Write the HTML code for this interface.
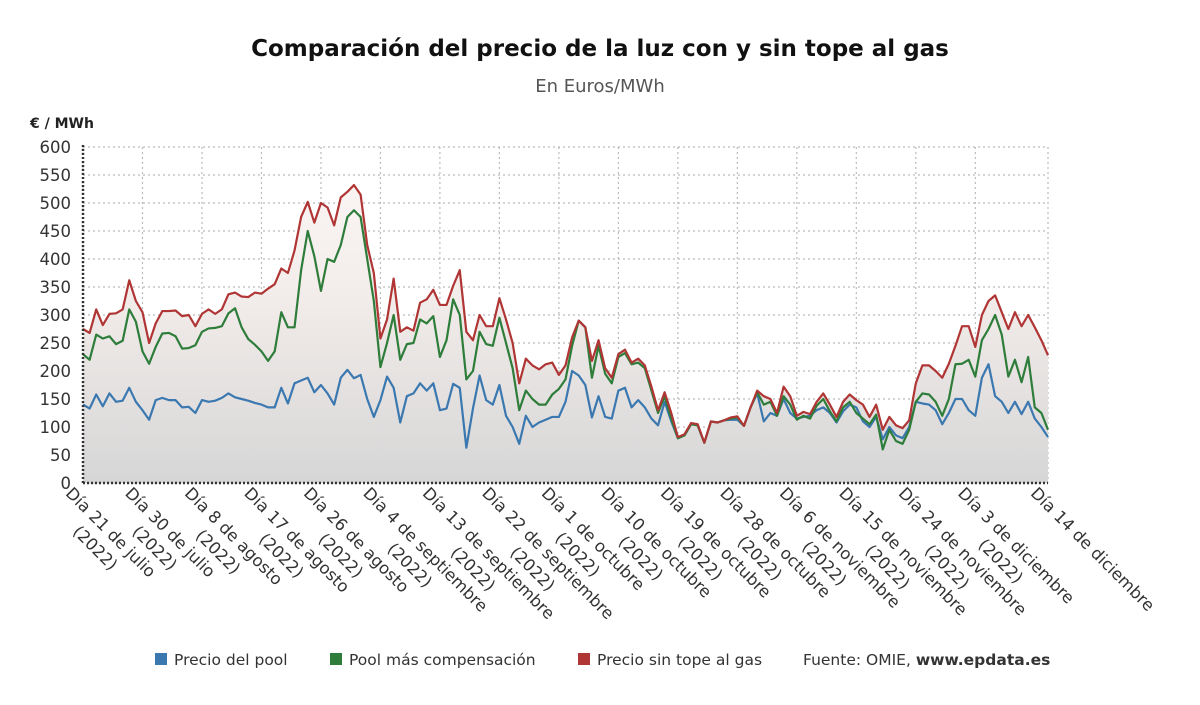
<!DOCTYPE html>
<html><head><meta charset="utf-8"><style>
body{margin:0;background:#fff;}
svg{display:block;font-family:"DejaVu Sans","Liberation Sans",sans-serif;}
</style></head><body>
<svg id="chart" width="1200" height="705" viewBox="0 0 1200 705" xmlns="http://www.w3.org/2000/svg">
<defs>
<linearGradient id="areaGrad" gradientUnits="userSpaceOnUse" x1="0" y1="147" x2="0" y2="483">
<stop offset="0" stop-color="#fdf7f7"/><stop offset="0.45" stop-color="#f2ecea"/><stop offset="1" stop-color="#d6d6d6"/>
</linearGradient>
</defs>
<text x="600" y="56" text-anchor="middle" font-size="23" font-weight="bold" fill="#111">Comparación del precio de la luz con y sin tope al gas</text>
<text x="600" y="92" text-anchor="middle" font-size="18" fill="#555">En Euros/MWh</text>
<text x="30" y="128" font-size="14" font-weight="bold" fill="#222">€ / MWh</text>
<g id="grid"></g>
<path id="area" fill="url(#areaGrad)"/>
<g id="lines"></g>
<g id="axes"></g>
<g id="legend" font-size="15.5" fill="#333">
<rect x="155" y="653" width="12" height="12" fill="#3b78b0"/>
<text x="174" y="665">Precio del pool</text>
<rect x="330" y="653" width="12" height="12" fill="#2e7d3a"/>
<text x="349" y="665">Pool más compensación</text>
<rect x="578" y="653" width="12" height="12" fill="#b03535"/>
<text x="597" y="665">Precio sin tope al gas</text>
<text x="803" y="665">Fuente: OMIE, <tspan font-weight="bold">www.epdata.es</tspan></text>
</g>
</svg>
<script>
const tickLabels = ["Día 21 de julio","Día 30 de julio","Día 8 de agosto","Día 17 de agosto","Día 26 de agosto","Día 4 de septiembre","Día 13 de septiembre","Día 22 de septiembre","Día 1 de octubre","Día 10 de octubre","Día 19 de octubre","Día 28 de octubre","Día 6 de noviembre","Día 15 de noviembre","Día 24 de noviembre","Día 3 de diciembre","Día 14 de diciembre"];
const tickIndex = [0,9,18,27,36,45,54,63,72,81,90,99,108,117,126,135,146];
const yTicks = [0,50,100,150,200,250,300,350,400,450,500,550,600];
const sinTope = [275,268,310,282,302,303,310,362,325,305,250,285,307,307,308,298,300,280,302,310,302,310,337,340,333,332,340,338,347,355,383,375,415,475,502,465,500,492,460,510,520,532,515,425,375,258,292,365,270,278,272,322,328,345,318,318,352,380,270,255,300,280,280,330,292,250,178,222,210,203,212,215,193,210,260,290,278,218,255,205,188,230,238,215,222,210,172,130,162,125,82,87,107,105,72,110,108,112,117,119,102,135,165,155,150,125,172,155,120,127,123,145,160,140,118,145,158,148,140,118,140,95,118,103,98,112,178,210,210,200,188,213,245,280,280,243,300,325,335,305,275,305,280,300,278,255,228];
const compensacion = [230,220,265,258,262,248,254,310,288,235,213,243,267,268,262,240,241,246,270,276,277,280,303,312,278,257,247,235,218,235,305,278,278,380,450,405,343,400,395,425,475,487,475,400,325,207,250,300,220,248,250,292,285,298,225,255,328,300,185,200,270,248,245,295,250,205,130,165,150,140,140,158,168,185,245,290,278,188,245,195,178,225,232,212,215,205,165,125,155,115,80,85,105,103,72,110,108,112,115,117,102,135,162,140,145,120,155,140,113,120,115,138,150,128,110,135,145,125,115,105,122,60,95,75,70,95,145,160,158,145,120,150,212,213,220,190,255,275,300,265,190,220,180,225,135,125,95];
const pool = [140,133,158,137,160,145,147,170,145,130,113,148,152,148,148,135,136,125,148,145,147,152,160,153,150,147,143,140,135,135,170,142,178,183,188,162,175,160,140,188,202,187,193,150,118,148,190,170,108,155,160,178,165,178,130,133,177,170,63,133,192,148,140,175,120,100,70,120,100,108,113,118,118,145,200,192,175,117,155,118,115,165,170,135,148,135,115,103,145,110,80,85,105,103,72,110,108,112,113,113,102,135,160,110,125,120,150,125,115,118,120,130,135,125,108,128,140,135,110,100,118,78,100,85,80,100,145,142,140,130,105,125,150,150,130,120,188,212,155,145,125,145,123,145,115,100,82];

const NS="http://www.w3.org/2000/svg";
const X0=83, X1=1048, Y0=483, Y1=147, N=sinTope.length;
const xs=i=>X0+(X1-X0)*i/(N-1);
const ys=v=>Y0-(Y0-Y1)*v/600;
function mk(tag,attrs,parent){const e=document.createElementNS(NS,tag);for(const k in attrs)e.setAttribute(k,attrs[k]);parent.appendChild(e);return e;}
const grid=document.getElementById('grid'), axes=document.getElementById('axes'), lines=document.getElementById('lines');
yTicks.forEach(v=>{
  const l=mk('line',{x1:X0,x2:X1,y1:ys(v),y2:ys(v),stroke:'#bbb','stroke-width':1.2,'stroke-dasharray':'2,3'},grid);
  
  
  const t=mk('text',{x:71,y:ys(v)+6,'text-anchor':'end','font-size':16.5,fill:'#333'},axes);
  
  
  t.textContent=v;
});
tickIndex.forEach((idx,k)=>{
  const x=xs(idx);
  const l=mk('line',{x1:x,x2:x,y1:Y1,y2:Y0,stroke:'#bbb','stroke-width':1.2,'stroke-dasharray':'2,3'},grid);
  
  
  const g=mk('g',{transform:`translate(${x-14},${Y0+7}) rotate(45)`},axes);
  
  
  const t1=mk('text',{x:0,y:6,'font-size':16.5,fill:'#333'},g);
  t1.textContent=tickLabels[k];
  if(k<tickIndex.length-1){
    const w=t1.getComputedTextLength();
    const t2=mk('text',{x:w/2,y:28,'text-anchor':'middle','font-size':16.5,fill:'#333'},g);
    t2.textContent='(2022)';
  }
});
let d=`M${xs(0)},${Y0}`;sinTope.forEach((v,i)=>d+=`L${xs(i)},${ys(v)}`);d+=`L${xs(N-1)},${Y0}Z`;
document.getElementById('area').setAttribute('d',d);
[[pool,'#3b78b0','line-precio-pool'],[compensacion,'#2e7d3a','line-pool-compensacion'],[sinTope,'#b03535','line-sin-tope']].forEach(([arr,c,name])=>{
  const p=mk('path',{d:arr.map((v,i)=>(i?'L':'M')+xs(i)+','+ys(v)).join(''),fill:'none',stroke:c,'stroke-width':2.2,'stroke-linejoin':'round'},lines);
  
  
});
const ax=mk('line',{x1:X0,x2:X0,y1:Y1-2,y2:Y0,stroke:'#333','stroke-width':2.5,'stroke-dasharray':'2,2'},axes);


const bx=mk('line',{x1:X0,x2:X1,y1:Y0,y2:Y0,stroke:'#333','stroke-width':2.5,'stroke-dasharray':'2,2'},axes);


</script>
</body></html>
